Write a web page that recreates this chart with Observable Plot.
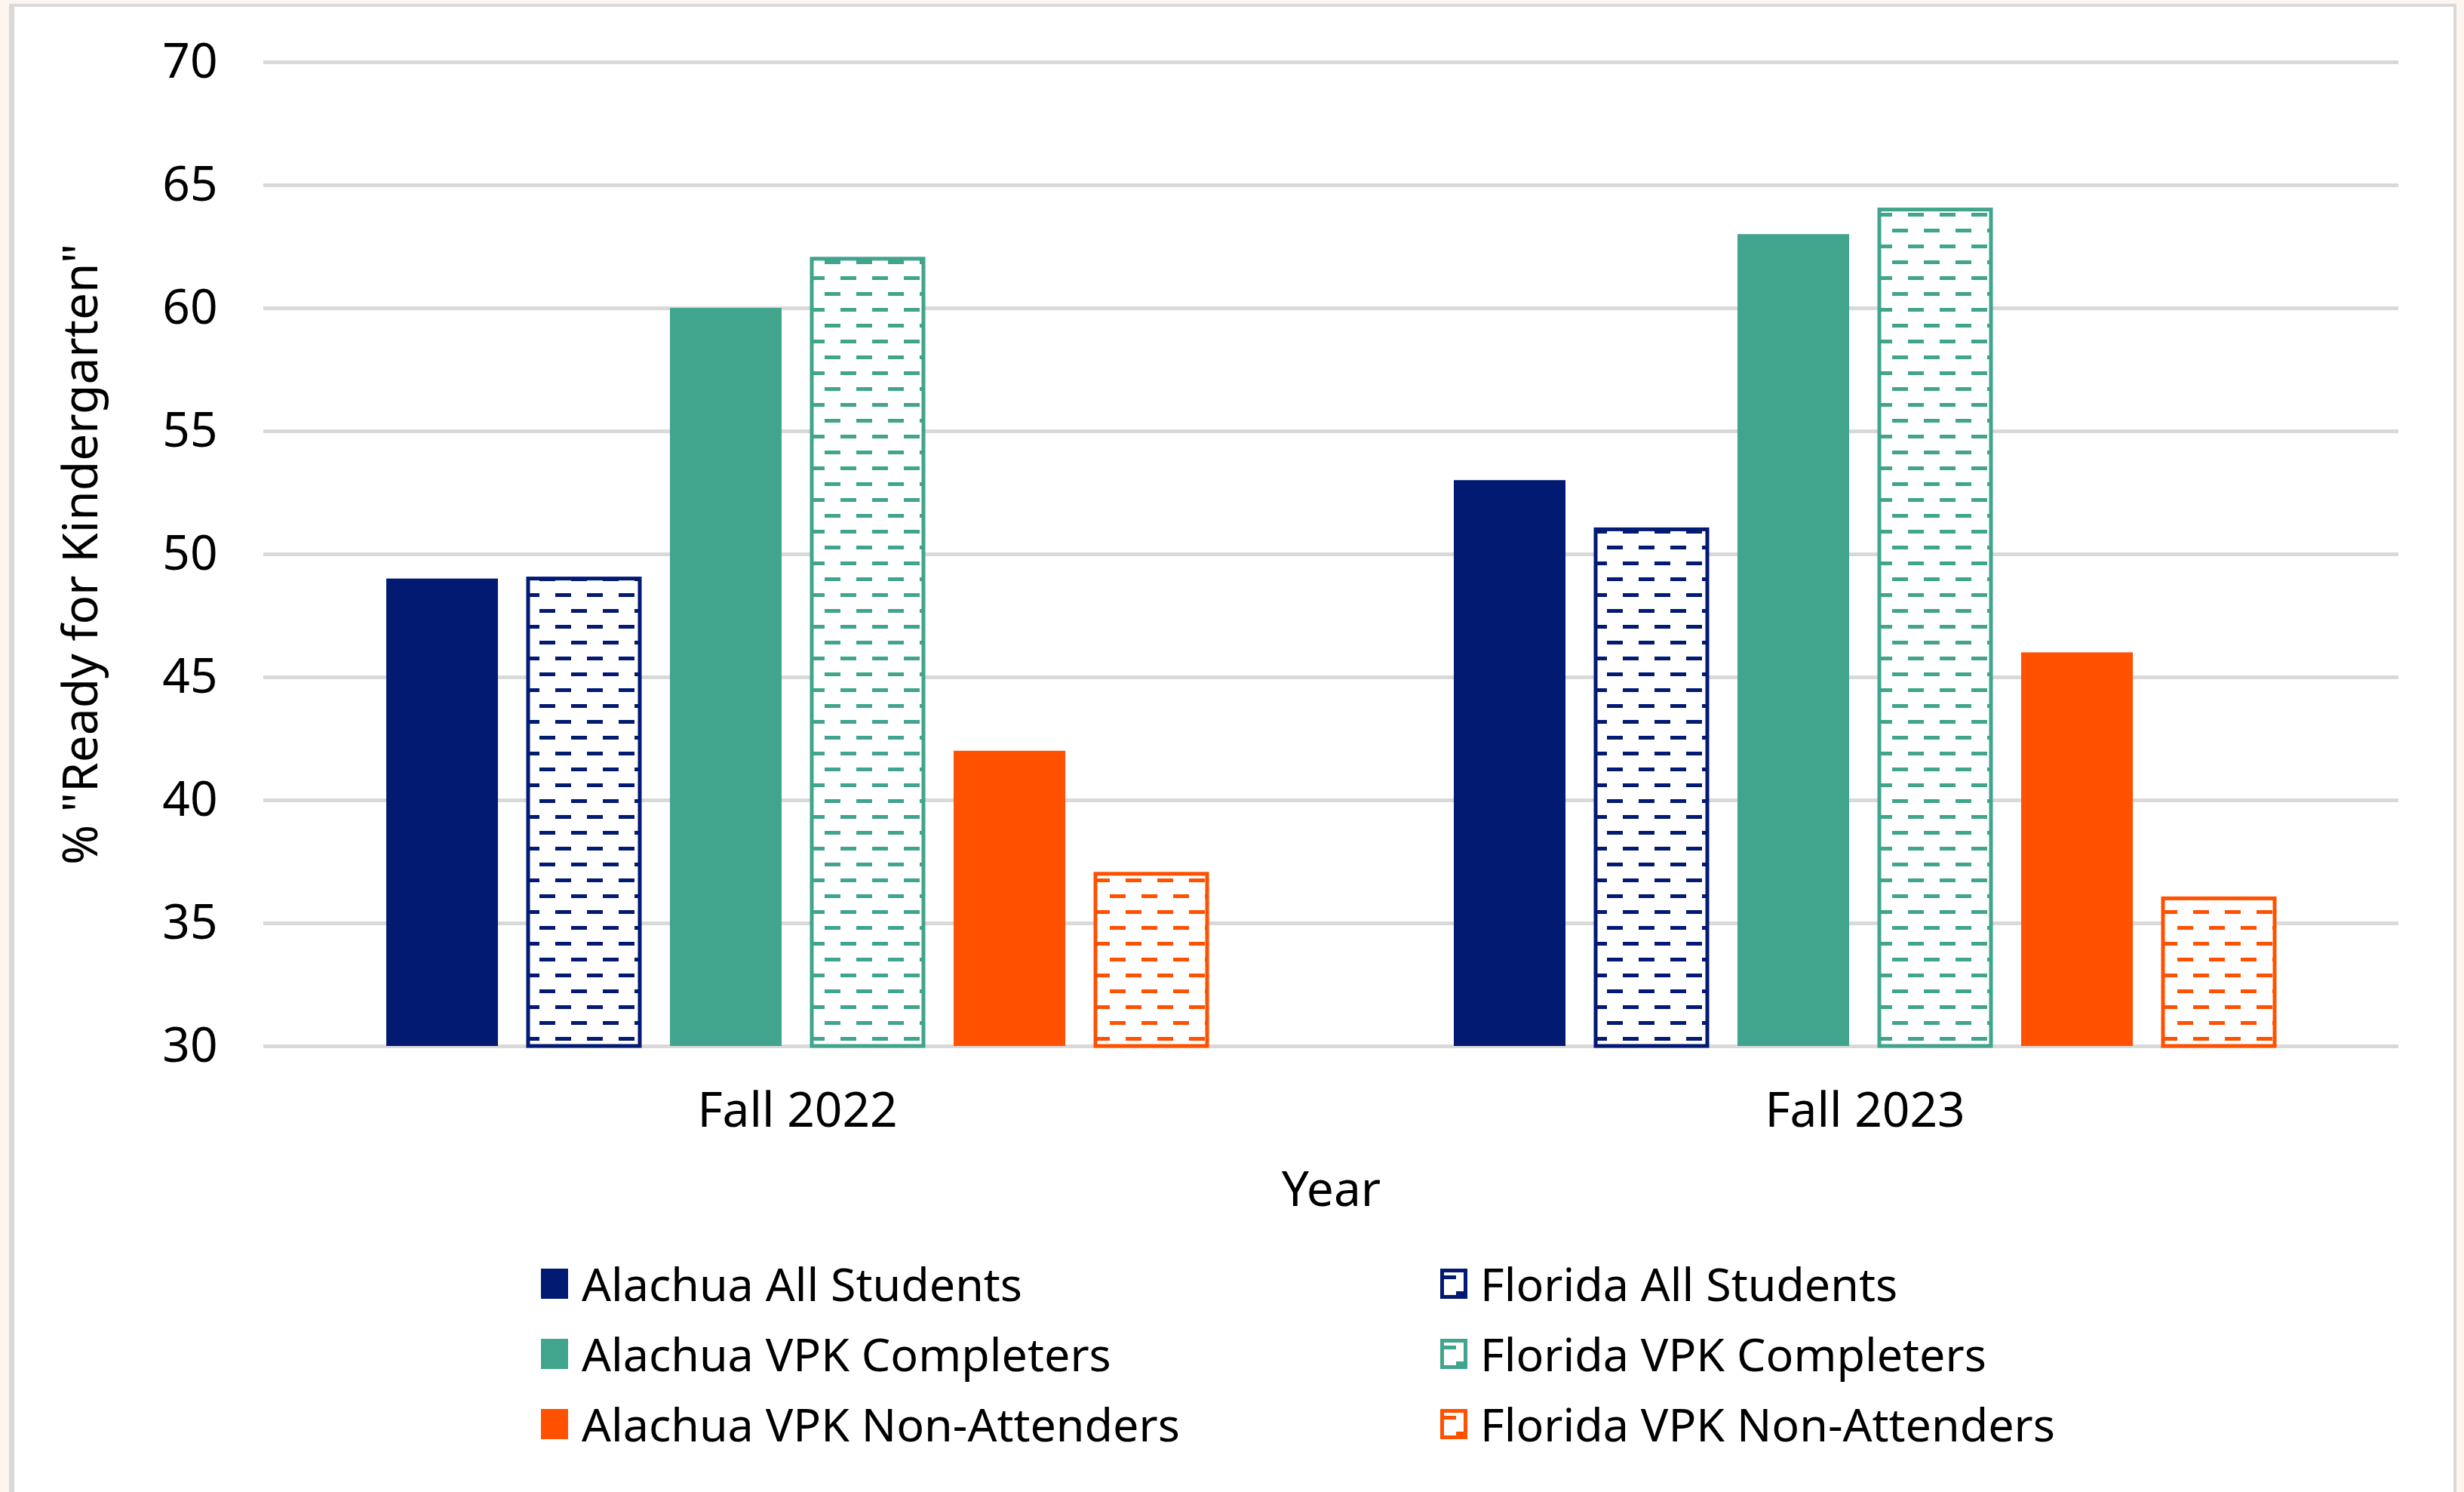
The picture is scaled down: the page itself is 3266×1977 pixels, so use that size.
<!DOCTYPE html>
<html><head><meta charset="utf-8">
<script src="https://cdn.jsdelivr.net/npm/d3@7"></script>
<script src="https://cdn.jsdelivr.net/npm/@observablehq/plot@0.6"></script>
<style>
html,body{margin:0;padding:0;background:#fdf5ef;width:3266px;height:1977px;overflow:hidden;font-family:"Noto Sans",sans-serif;}
#panel{position:absolute;left:12px;top:5px;width:3233px;height:2000px;background:#fff;border-left:7px solid #d9d9d9;border-top:4px solid #d9d9d9;border-right:4px solid #d9d9d9;}
#chart{position:absolute;left:0;top:0;}
.item{position:absolute;display:flex;align-items:center;height:80px;line-height:80px;font-size:61px;color:#000;white-space:nowrap;font-family:"Noto Sans",sans-serif;}
.item svg{flex:none;}
</style>
</head>
<body>
<div id="panel"></div>
<div id="chart"></div>
<div id="legend"></div>
<script>
// ---- data ----
const years = ["Fall 2022", "Fall 2023"];
const series = [
  "Alachua All Students",
  "Florida All Students",
  "Alachua VPK Completers",
  "Florida VPK Completers",
  "Alachua VPK Non-Attenders",
  "Florida VPK Non-Attenders"
];
const alachuaAll = [49, 53];
const floridaAll = [49, 51];
const alachuaVPK = [60, 63];
const floridaVPK = [62, 64];
const alachuaNon = [42, 46];
const floridaNon = [37, 36];
const yTicks = [30, 35, 40, 45, 50, 55, 60, 65, 70];
const yLabel = '% "Ready for Kindergarten"';
const xLabel = "Year";

// ---- styles ----
const seriesValues = [alachuaAll, floridaAll, alachuaVPK, floridaVPK, alachuaNon, floridaNon];
const colors = ["#021A72", "#021A72", "#41A48C", "#41A48C", "#FF5100", "#FF5100"];
const patterned = [false, true, false, true, false, true];

const rows = [];
series.forEach((s, i) => years.forEach((y, j) => rows.push({year: y, series: s, value: seriesValues[i][j], idx: i})));

const chart = Plot.plot({
  width: 3266, height: 1640,
  marginLeft: 348, marginRight: 87, marginTop: 82, marginBottom: 254,
  style: {fontFamily: '"Noto Sans", sans-serif', fontSize: "64px", background: "transparent", color: "#000", overflow: "visible"},
  fx: {domain: years, padding: 0},
  x: {domain: series, paddingInner: 0.211, paddingOuter: 0.866, axis: null},
  y: {domain: [30, 70]},
  color: {type: "identity"},
  marks: [
    Plot.gridY(yTicks, {stroke: "#d9d9d9", strokeOpacity: 1, strokeWidth: 5}),
    Plot.barY(rows.filter(d => !patterned[d.idx]), {fx: "year", x: "series", y1: 30, y2: "value", fill: d => colors[d.idx]}),
    Plot.barY(rows.filter(d => patterned[d.idx]), {fx: "year", x: "series", y1: 30, y2: "value", fill: d => `url(#pat${d.idx})`, stroke: d => colors[d.idx], strokeWidth: 5}),
    Plot.axisY(yTicks, {tickSize: 0, tickPadding: 61, label: yLabel, labelAnchor: "center", labelOffset: 266, labelArrow: "none", fontSize: 64}),
    Plot.axisFx({anchor: "bottom", tickSize: 0, tickPadding: 61, label: xLabel, labelAnchor: "center", labelOffset: 211, labelArrow: "none", fontSize: 64})
  ]
});

// patterns
const ns = "http://www.w3.org/2000/svg";
const svgEl = chart.tagName.toLowerCase() === "svg" ? chart : chart.querySelector("svg");
const defs = document.createElementNS(ns, "defs");
colors.forEach((c, i) => {
  if (!patterned[i]) return;
  const p = document.createElementNS(ns, "pattern");
  p.setAttribute("id", "pat" + i);
  p.setAttribute("patternUnits", "userSpaceOnUse");
  p.setAttribute("width", 42);
  p.setAttribute("height", 42);
  const bg = document.createElementNS(ns, "rect");
  bg.setAttribute("width", 42); bg.setAttribute("height", 42); bg.setAttribute("fill", "#fff");
  p.appendChild(bg);
  [[0, 9], [21, 30]].forEach(([x, y]) => {
    const r = document.createElementNS(ns, "rect");
    r.setAttribute("x", x); r.setAttribute("y", y);
    r.setAttribute("width", 21); r.setAttribute("height", 5);
    r.setAttribute("fill", c);
    p.appendChild(r);
  });
  defs.appendChild(p);
});
svgEl.insertBefore(defs, svgEl.firstChild);
document.getElementById("chart").appendChild(chart);

// legend
const legend = document.getElementById("legend");
const rowCenters = [1701, 1794, 1887];
const colSwatchX = [717, 1909];
const colTextGap = [18, 17];
series.forEach((s, i) => {
  const col = patterned[i] ? 1 : 0;
  const row = Math.floor(i / 2);
  const item = document.createElement("div");
  item.className = "item";
  item.style.left = colSwatchX[col] + "px";
  item.style.top = (rowCenters[row] - 40) + "px";
  const sw = document.createElementNS(ns, "svg");
  sw.setAttribute("width", 36); sw.setAttribute("height", 40);
  const r = document.createElementNS(ns, "rect");
  if (patterned[i]) {
    r.setAttribute("x", 2.5); r.setAttribute("y", 2.5);
    r.setAttribute("width", 31); r.setAttribute("height", 35);
    r.setAttribute("fill", `url(#pat${i})`);
    r.setAttribute("stroke", colors[i]);
    r.setAttribute("stroke-width", 5);
  } else {
    r.setAttribute("width", 36); r.setAttribute("height", 40);
    r.setAttribute("fill", colors[i]);
  }
  sw.appendChild(r);
  item.appendChild(sw);
  const t = document.createElement("span");
  t.textContent = s;
  t.style.marginLeft = colTextGap[col] + "px";
  item.appendChild(t);
  legend.appendChild(item);
});
</script>
</body></html>
